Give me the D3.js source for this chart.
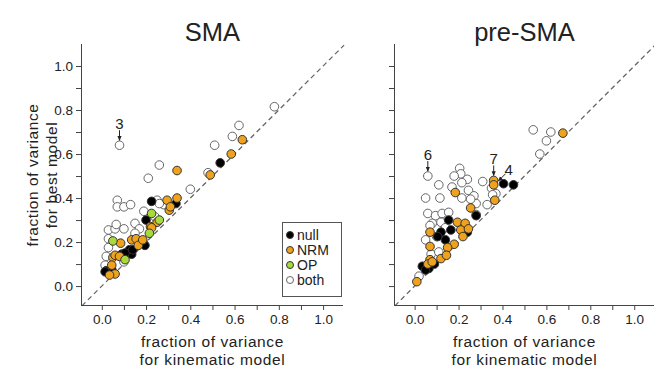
<!DOCTYPE html>
<html><head><meta charset="utf-8">
<script src="https://cdn.jsdelivr.net/npm/d3@7"></script>
<style>body{margin:0;background:#fff}svg{display:block;font-family:"Liberation Sans",Arial,sans-serif}</style>
</head><body><svg id="c" width="654" height="368"></svg>
<script>
const panels = ["SMA", "pre-SMA"];
const tickValues = [0,0.1,0.2,0.3,0.4,0.5,0.6,0.7,0.8,0.9,1.0];
const tickLabels = ["0.0","0.2","0.4","0.6","0.8","1.0"];
const legendLabels = ["null","NRM","OP","both"];

// SMA
const smaBoth = [[0.08,0.64],[0.78,0.815],[0.62,0.73],[0.59,0.68],[0.51,0.64],[0.48,0.515],[0.40,0.44],[0.26,0.55],[0.21,0.49],[0.07,0.39],[0.07,0.36],[0.10,0.36],[0.13,0.37],[0.25,0.39],[0.28,0.37],[0.19,0.34],[0.24,0.315],[0.15,0.285],[0.17,0.26],[0.03,0.255],[0.06,0.26],[0.10,0.26],[0.065,0.28],[0.15,0.24],[0.03,0.175],[0.03,0.215],[0.02,0.135],[0.10,0.11],[0.02,0.085],[0.015,0.095],[0.26,0.375]];
const smaNull = [[0.535,0.56],[0.225,0.385],[0.335,0.375],[0.20,0.30],[0.185,0.20],[0.17,0.195],[0.125,0.165],[0.135,0.145],[0.09,0.145],[0.105,0.15],[0.14,0.165],[0.02,0.07],[0.045,0.075],[0.035,0.06],[0.015,0.065],[0.195,0.185]];
const smaNRM = [[0.635,0.665],[0.585,0.60],[0.49,0.505],[0.34,0.525],[0.295,0.39],[0.34,0.40],[0.305,0.345],[0.25,0.29],[0.22,0.27],[0.225,0.265],[0.085,0.195],[0.135,0.21],[0.155,0.215],[0.165,0.185],[0.185,0.21],[0.05,0.13],[0.06,0.14],[0.08,0.135],[0.06,0.055],[0.035,0.05],[0.045,0.095],[0.31,0.36]];
const smaOP = [[0.225,0.33],[0.26,0.30],[0.215,0.24],[0.05,0.205],[0.105,0.12]];

// pre-SMA
const preBoth = [[0.54,0.71],[0.62,0.70],[0.60,0.66],[0.57,0.60],[0.06,0.50],[0.11,0.46],[0.05,0.40],[0.115,0.40],[0.205,0.535],[0.21,0.51],[0.18,0.50],[0.24,0.485],[0.215,0.47],[0.17,0.45],[0.215,0.40],[0.245,0.435],[0.27,0.41],[0.31,0.475],[0.35,0.445],[0.37,0.42],[0.355,0.415],[0.33,0.37],[0.28,0.375],[0.06,0.33],[0.095,0.32],[0.125,0.33],[0.155,0.335],[0.08,0.285],[0.12,0.29],[0.07,0.275],[0.14,0.265],[0.10,0.225],[0.05,0.21],[0.075,0.145],[0.11,0.155],[0.02,0.045],[0.28,0.325],[0.255,0.395]];
const preNull = [[0.405,0.465],[0.45,0.46],[0.28,0.32],[0.155,0.30],[0.165,0.255],[0.14,0.21],[0.12,0.245],[0.24,0.245],[0.035,0.09],[0.065,0.08],[0.09,0.10],[0.05,0.073],[0.105,0.225]];
const preNRM = [[0.675,0.695],[0.36,0.48],[0.36,0.46],[0.185,0.425],[0.255,0.355],[0.365,0.39],[0.01,0.02],[0.07,0.245],[0.07,0.18],[0.195,0.29],[0.23,0.285],[0.21,0.255],[0.245,0.26],[0.22,0.225],[0.18,0.19],[0.15,0.175],[0.07,0.12],[0.06,0.10],[0.12,0.125],[0.145,0.14],[0.08,0.11]];
const preOP = [];

const smaNotes = [{label:"3", x:0.08, y:0.64}];
const preNotes = [{label:"6", x:0.06, y:0.50},{label:"7", x:0.36, y:0.48}];
const preNote4 = {label:"4", x:0.405, y:0.465};

const colors = {null:"#000000", NRM:"#EFA21E", OP:"#A8DA3C", both:"#ffffff"};
const svg = d3.select("#c");

svg.append("defs").append("marker").attr("id","ah").attr("viewBox","0 0 6 6")
  .attr("refX",5).attr("refY",3).attr("markerWidth",5).attr("markerHeight",5).attr("orient","auto")
  .append("path").attr("d","M0,0.5L6,3L0,5.5Z").attr("fill","#222");

function panel(i, left, right, sets, notes){
  const x = d3.scaleLinear().domain([-0.094,1.09]).range([left,right]);
  const y = d3.scaleLinear().domain([-0.086,1.1]).range([305,44]);
  const g = svg.append("g");
  // diagonal
  g.append("line").attr("x1",x(-0.09)).attr("y1",y(-0.09)).attr("x2",x(1.095)).attr("y2",y(1.095))
    .attr("stroke","#666").attr("stroke-width",1.3).attr("stroke-dasharray","5,3.5");
  // axes
  const ax = d3.axisBottom(x).tickValues(tickValues).tickSize(5).tickSizeOuter(0)
    .tickFormat(d => tickLabels.includes(d.toFixed(1)) && Math.round(d*10)%2===0 ? d.toFixed(1) : "");
  const gx = g.append("g").attr("transform",`translate(0,305)`).call(ax);
  gx.select(".domain").attr("d",`M${left},0.5H${right}`);
  const ay = d3.axisLeft(y).tickValues(tickValues).tickSize(5).tickSizeOuter(0)
    .tickFormat(d => (i===0 && Math.round(d*10)%2===0) ? d.toFixed(1) : "");
  const gy = g.append("g").attr("transform",`translate(${left},0)`).call(ay);
  gy.select(".domain").attr("d",`M0.5,44V305`);
  [gx,gy].forEach(a=>{a.selectAll("text").attr("font-size",13.5).attr("fill","#222").attr("font-family","'Liberation Sans',Arial,sans-serif");
    a.selectAll("line,path").attr("stroke","#444");});
  gx.selectAll("text").attr("dy","0.85em");
  // title
  const cx = (x(0)+x(1))/2;
  g.append("text").attr("x",cx).attr("y",41).attr("text-anchor","middle").attr("font-size",25.5).attr("fill","#222").text(panels[i]);
  g.append("text").attr("x",cx).attr("y",347).attr("text-anchor","middle").attr("font-size",15.5).attr("letter-spacing",0.6).attr("fill","#222").text("fraction of variance");
  g.append("text").attr("x",cx).attr("y",365).attr("text-anchor","middle").attr("font-size",15.5).attr("letter-spacing",0.6).attr("fill","#222").text("for kinematic model");
  // points
  sets.forEach(([name,data])=>{
    g.append("g").selectAll("circle").data(data).join("circle")
      .attr("cx",d=>x(d[0])).attr("cy",d=>y(d[1])).attr("r",4.3)
      .attr("fill",colors[name]).attr("stroke", name==="both" ? "#666" : "#333").attr("stroke-width",1);
  });
  // notes
  notes.forEach(n=>{
    g.append("text").attr("x",x(n.x)).attr("y",y(n.y)-16).attr("text-anchor","middle").attr("font-size",15).attr("fill","#222").text(n.label);
    g.append("line").attr("x1",x(n.x)).attr("x2",x(n.x)).attr("y1",y(n.y)-15).attr("y2",y(n.y)-5)
      .attr("stroke","#222").attr("stroke-width",1).attr("marker-end","url(#ah)");
  });
  return {x,y,g};
}

const p1 = panel(0, 81, 343, [["both",smaBoth],["null",smaNull],["NRM",smaNRM],["OP",smaOP]], smaNotes);
const p2 = panel(1, 394, 654, [["both",preBoth],["null",preNull],["NRM",preNRM],["OP",preOP]], preNotes);
// note 4 (diagonal arrow)
{
  const {x,y,g} = p2;
  const px = x(preNote4.x), py = y(preNote4.y);
  g.append("text").attr("x",px+5).attr("y",py-9).attr("text-anchor","middle").attr("font-size",15).attr("fill","#222").text(preNote4.label);
  g.append("line").attr("x1",px+2).attr("y1",py-10).attr("x2",px-5).attr("y2",py-3)
    .attr("stroke","#222").attr("stroke-width",1).attr("marker-end","url(#ah)");
}

// y-axis title
svg.append("text").attr("transform","translate(38,175) rotate(-90)").attr("text-anchor","middle").attr("font-size",15.5).attr("letter-spacing",0.6).attr("fill","#222").text("fraction of variance");
svg.append("text").attr("transform","translate(57,175) rotate(-90)").attr("text-anchor","middle").attr("font-size",15.5).attr("letter-spacing",0.6).attr("fill","#222").text("for best model");

// legend
const lg = svg.append("g");
lg.append("rect").attr("x",282.5).attr("y",222.5).attr("width",59).attr("height",74).attr("fill","#fff").attr("stroke","#555").attr("stroke-width",1);
lg.selectAll("g.it").data(legendLabels).join("g").attr("class","it")
  .attr("transform",(d,k)=>`translate(290,${235+k*15})`)
  .each(function(d){
    const s=d3.select(this);
    s.append("circle").attr("r",3.5).attr("fill",colors[d]).attr("stroke",d==="both"?"#666":"#333").attr("stroke-width",1);
    s.append("text").attr("x",7).attr("y",5).attr("font-size",14).attr("fill","#222").text(d);
  });
</script></body></html>
